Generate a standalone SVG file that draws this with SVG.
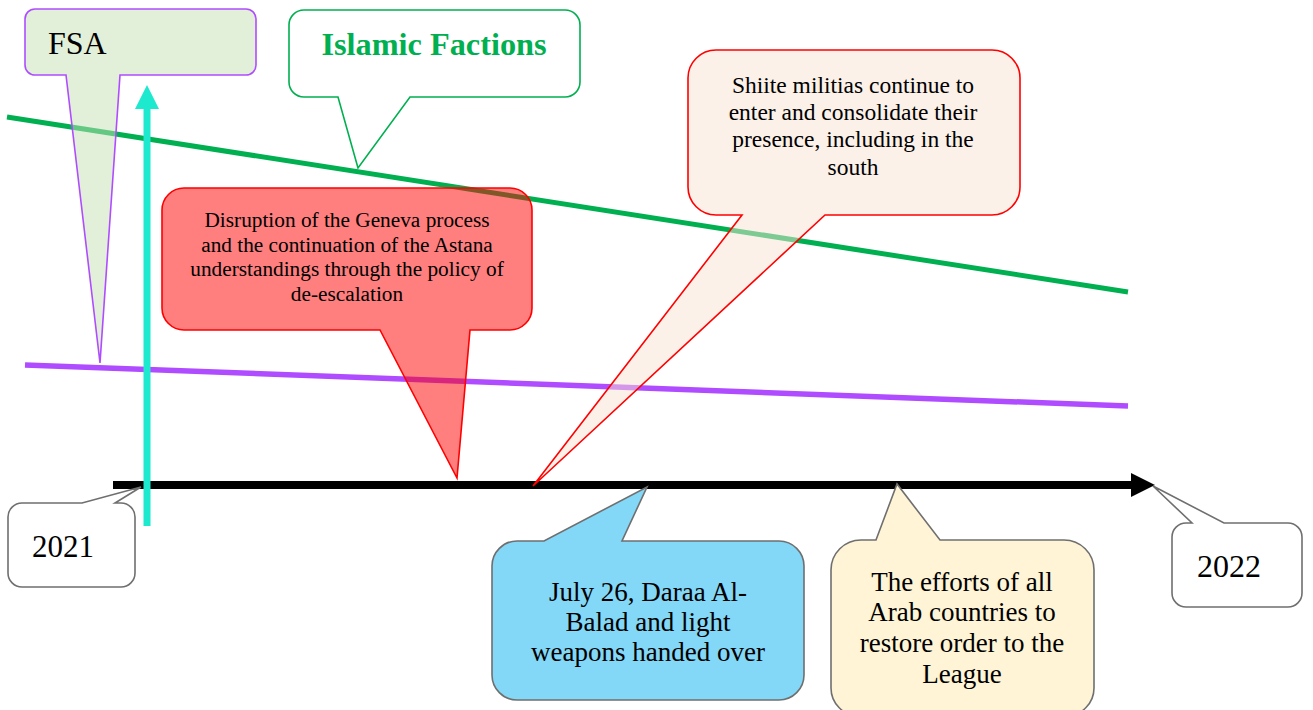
<svg xmlns="http://www.w3.org/2000/svg" width="1313" height="710" viewBox="0 0 1313 710">
<style>
text{font-family:"Liberation Serif","Times New Roman",serif;fill:#000}
.c{text-anchor:middle}
.co{stroke-width:1.6;stroke-linejoin:miter}
.gray{stroke:#6f6f6f;fill:#fff}
</style>
<defs>
<marker id="blk" markerWidth="24" markerHeight="24" refX="0" refY="12" orient="auto" markerUnits="userSpaceOnUse">
<path d="M0,0 L24,12 L0,24 Z" fill="#000"/>
</marker>
<marker id="cyan" markerWidth="24" markerHeight="24" refX="0" refY="12" orient="auto" markerUnits="userSpaceOnUse">
<path d="M0,0 L24,12 L0,24 Z" fill="#1de9cf"/>
</marker>
</defs>
<rect width="1313" height="710" fill="#fff"/>
<g id="connectors">
<line x1="7" y1="117" x2="1128" y2="292" stroke="#00b050" stroke-width="5"/>
<line x1="25" y1="365" x2="1128" y2="406" stroke="#b04cff" stroke-width="5.5"/>
<line x1="113" y1="485" x2="1131" y2="485" stroke="#000" stroke-width="8" marker-end="url(#blk)"/>
<line x1="147" y1="526" x2="147" y2="109" stroke="#1de9cf" stroke-width="7" marker-end="url(#cyan)"/>
</g>
<g id="fsa">
<path class="co" d="M35,9 H246 A10,10 0 0 1 256,19 V65 A10,10 0 0 1 246,75 H120 L100,363 L66,75 H35 A10,10 0 0 1 25,65 V19 A10,10 0 0 1 35,9 Z" fill="#c5e0b4" fill-opacity="0.5" stroke="#b04cff"/>
<text x="48" y="54" font-size="32">FSA</text>
</g>
<g id="islamic">
<path class="co" d="M304,10 H565 A15,15 0 0 1 580,25 V82 A15,15 0 0 1 565,97 H410 L358,168 L338,97 H304 A15,15 0 0 1 289,82 V25 A15,15 0 0 1 304,10 Z" fill="#fff" stroke="#00b050"/>
<text class="c" x="434" y="55" font-size="32.3" font-weight="bold" style="fill:#00b050">Islamic Factions</text>
</g>
<g id="geneva">
<path class="co" d="M184,188 H510 A22,22 0 0 1 532,210 V308 A22,22 0 0 1 510,330 H470 L457,478 L380,330 H184 A22,22 0 0 1 162,308 V210 A22,22 0 0 1 184,188 Z" fill="#ff0000" fill-opacity="0.5" stroke="#ff0000"/>
<text class="c" x="347" y="227" font-size="21.3">Disruption of the Geneva process</text>
<text class="c" x="347" y="252" font-size="21.3">and the continuation of the Astana</text>
<text class="c" x="347" y="276" font-size="21.3">understandings through the policy of</text>
<text class="c" x="347" y="301" font-size="21.3">de-escalation</text>
</g>
<g id="shiite">
<path class="co" d="M716,50 H992 A28,28 0 0 1 1020,78 V187 A28,28 0 0 1 992,215 H825 L533,486 L742,215 H716 A28,28 0 0 1 688,187 V78 A28,28 0 0 1 716,50 Z" fill="#f9e3d3" fill-opacity="0.5" stroke="#ff0000"/>
<text class="c" x="853" y="93" font-size="23.5">Shiite militias continue to</text>
<text class="c" x="853" y="120" font-size="23.5">enter and consolidate their</text>
<text class="c" x="853" y="147" font-size="23.5">presence, including in the</text>
<text class="c" x="853" y="175" font-size="23.5">south</text>
</g>
<g id="y2021">
<path class="co gray" d="M22,503 H82 L141,487 L115,503 H121 A14,14 0 0 1 135,517 V573 A14,14 0 0 1 121,587 H22 A14,14 0 0 1 8,573 V517 A14,14 0 0 1 22,503 Z"/>
<text x="32" y="557" font-size="31">2021</text>
</g>
<g id="daraa">
<path class="co" d="M517,541 H544 L647,487 L622,541 H779 A25,25 0 0 1 804,566 V675 A25,25 0 0 1 779,700 H517 A25,25 0 0 1 492,675 V566 A25,25 0 0 1 517,541 Z" fill="#83d7f7" stroke="#6f6f6f"/>
<text class="c" x="648" y="601" font-size="27">July 26, Daraa Al-</text>
<text class="c" x="648" y="631" font-size="27">Balad and light</text>
<text class="c" x="648" y="661" font-size="27">weapons handed over</text>
</g>
<g id="arab">
<path class="co" d="M861,540 H876 L897,484 L940,540 H1064 A30,30 0 0 1 1094,570 V688 A28,28 0 0 1 1066,716 H859 A28,28 0 0 1 831,688 V570 A30,30 0 0 1 861,540 Z" fill="#fff4d5" stroke="#6f6f6f"/>
<text class="c" x="962" y="591" font-size="27">The efforts of all</text>
<text class="c" x="962" y="621" font-size="27">Arab countries to</text>
<text class="c" x="962" y="652" font-size="27">restore order to the</text>
<text class="c" x="962" y="683" font-size="27">League</text>
</g>
<g id="y2022">
<path class="co gray" d="M1186,523 H1192 L1153,486 L1224,523 H1288 A14,14 0 0 1 1302,537 V593 A14,14 0 0 1 1288,607 H1186 A14,14 0 0 1 1172,593 V537 A14,14 0 0 1 1186,523 Z"/>
<text x="1197" y="577" font-size="32">2022</text>
</g>
</svg>
